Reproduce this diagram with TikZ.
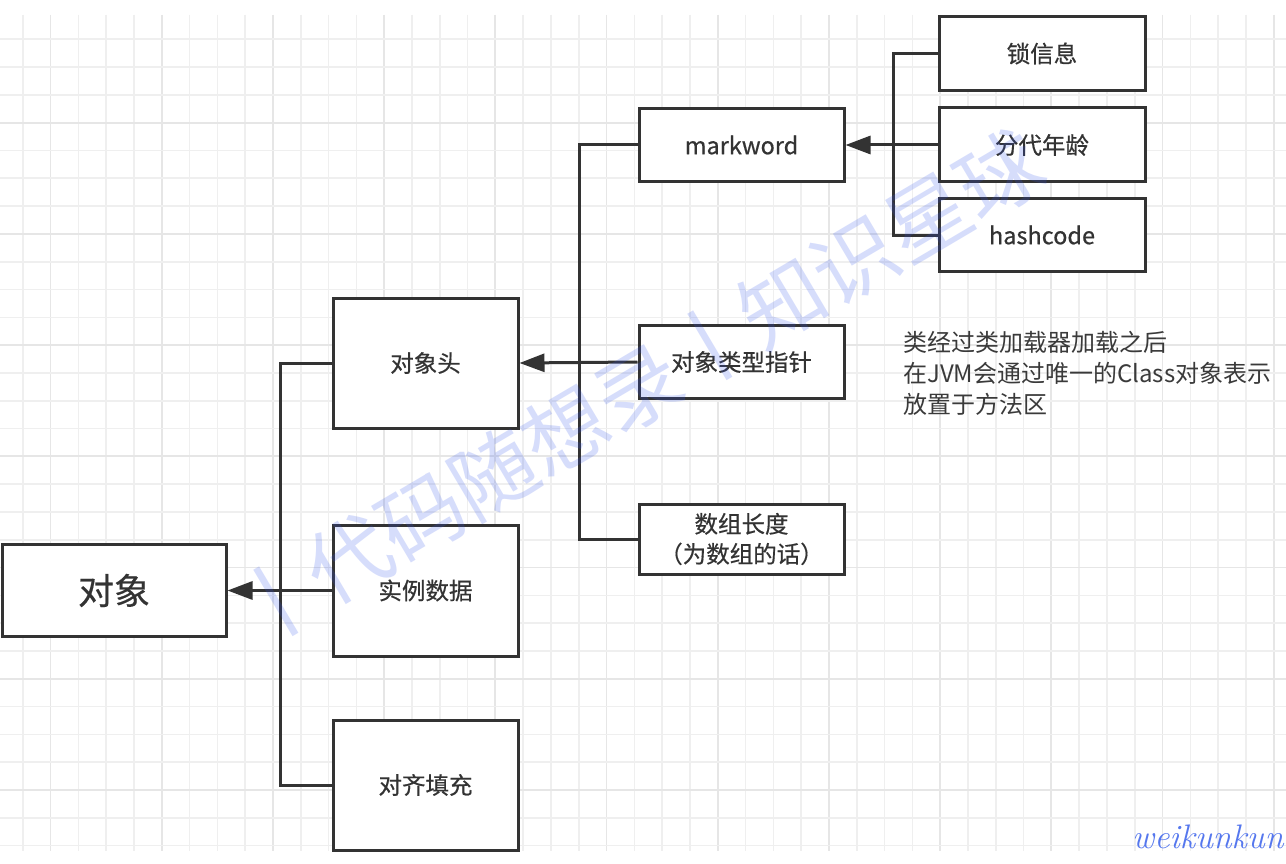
\documentclass[tikz,border=0pt]{standalone}
\usepackage{fontspec}
\newfontfamily\cjk{Noto Sans CJK SC}
\newfontfamily\cjkm{Noto Sans CJK SC}[FakeBold=0.5]
\usetikzlibrary{arrows.meta}
\definecolor{ink}{HTML}{333333}
\definecolor{note}{HTML}{3A3A3A}
\definecolor{gridminor}{HTML}{EFEFEF}
\definecolor{gridmajor}{HTML}{E6E6E6}
\definecolor{wmblue}{HTML}{3355EE}
\definecolor{sigblue}{HTML}{5577EE}
\begin{document}
\begin{tikzpicture}[x=1pt,y=-1pt,
  box/.style={draw=ink, line width=3pt, fill=white, text=ink, inner sep=0pt, align=center,
    font=\cjkm\fontsize{23.5}{30}\selectfont},
  conn/.style={draw=ink, line width=3pt},
  arr/.style={conn, -{Triangle[length=25pt,width=18pt]}},
  gminor/.style={draw=gridminor, line width=1.6pt},
  gmajor/.style={draw=gridmajor, line width=1.8pt}
]
\useasboundingbox (0,0) rectangle (1286,864);
\fill[white] (0,0) rectangle (1286,864);
% grid
\foreach \i in {0,...,45}{
  \pgfmathtruncatemacro{\m}{mod(\i,4)}
  \ifnum\m=1 \draw[gmajor] ({22.7+27.8*\i},15) -- ({22.7+27.8*\i},851);
  \else \draw[gminor] ({22.7+27.8*\i},15) -- ({22.7+27.8*\i},851); \fi
}
\foreach \k in {0,...,29}{
  \pgfmathtruncatemacro{\m}{mod(\k,4)}
  \ifnum\m=3 \draw[gmajor] (0,{39.3+27.8*\k}) -- (1286,{39.3+27.8*\k});
  \else \draw[gminor] (0,{39.3+27.8*\k}) -- (1286,{39.3+27.8*\k}); \fi
}
% nodes
\node[box, minimum width=224pt, minimum height=92pt, font=\cjkm\fontsize{36}{40}\selectfont] (obj) at (114,590.5) {对象};
\node[box, minimum width=185pt, minimum height=130pt] (hdr) at (425.5,363) {对象头};
\node[box, minimum width=185pt, minimum height=131pt] (inst) at (425.5,590.5) {实例数据};
\node[box, minimum width=185pt, minimum height=130pt] (pad) at (425.5,785) {对齐填充};
\node[box, minimum width=205pt, minimum height=73pt] (mw) at (741.5,145) {markword};
\node[box, minimum width=205pt, minimum height=73pt] (ptr) at (741.5,362) {对象类型指针};
\node[box, minimum width=205pt, minimum height=70pt] (len) at (741.5,539) {数组长度\\（为数组的话）};
\node[box, minimum width=206pt, minimum height=74pt] (lock) at (1042,53.5) {锁信息};
\node[box, minimum width=206pt, minimum height=74pt] (age) at (1042,145) {分代年龄};
\node[box, minimum width=206pt, minimum height=73pt] (hash) at (1042,235) {hashcode};
% connectors
\coordinate (t1) at (280,0);
\coordinate (t2) at (579,0);
\coordinate (t3) at (893,0);
\draw[conn] (hdr.west) -- (hdr.west -| t1) -- (pad.west -| t1) -- (pad.west);
\draw[arr] (inst.west) -- (obj.east);
\draw[conn] (mw.west) -- (mw.west -| t2) -- (len.west -| t2) -- (len.west);
\draw[arr] (ptr.west) -- (hdr.east);
\draw[conn] (lock.west) -- (lock.west -| t3) -- (hash.west -| t3) -- (hash.west);
\draw[arr] (age.west) -- (mw.east);
% annotation
\node[anchor=base west, align=left, text=note, inner sep=0pt, font=\cjk\fontsize{24}{31}\selectfont] (note) at (903,413)
  {类经过类加载器加载之后\\在JVM会通过唯一的Class对象表示\\放置于方法区};
% watermark
\node[rotate=30.6, text=wmblue, opacity=0.2, inner sep=0pt, font=\cjk\fontsize{84}{84}\selectfont] (wm) at (638,388) {丨代码随想录丨知识星球};
\node[anchor=base west, text=sigblue, inner sep=0pt, font=\itshape\fontsize{34}{34}\selectfont] (sig) at (1132,848) {weikunkun};
\end{tikzpicture}
\end{document}
